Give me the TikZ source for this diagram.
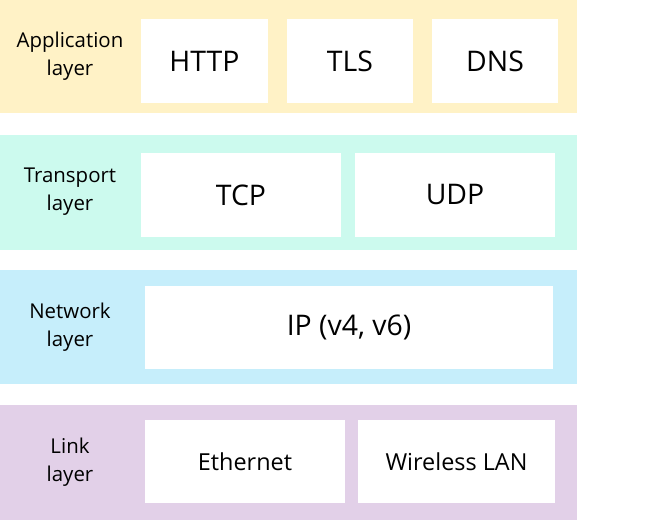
\documentclass[tikz,border=0pt]{standalone}
\usepackage{fontspec}
\setmainfont{Open Sans}
\definecolor{appc}{RGB}{255,242,198}
\definecolor{trc}{RGB}{204,250,238}
\definecolor{netc}{RGB}{198,238,251}
\definecolor{linkc}{RGB}{226,208,232}
\begin{document}
\begin{tikzpicture}[x=1bp,y=-1bp,
  band/.style={draw=none,inner sep=0,outer sep=0,anchor=north west,minimum width=577bp},
  proto/.style={fill=white,draw=none,inner sep=0,outer sep=0,font=\fontsize{28.5}{30}\selectfont},
  lproto/.style={proto,font=\fontsize{23.5}{26}\selectfont},
  lab/.style={align=center,font=\fontsize{20.5}{28}\selectfont}]
\useasboundingbox (0,0) rectangle (667,523);
% bands
\node[band,fill=appc,minimum height=113bp] (app) at (0,0) {};
\node[band,fill=trc,minimum height=115bp] (tr) at (0,135) {};
\node[band,fill=netc,minimum height=114bp] (net) at (0,270) {};
\node[band,fill=linkc,minimum height=115bp] (lnk) at (0,405) {};
% labels
\node[lab] (lapp) at (70,56) {Application\\layer};
\node[lab] (ltr) at (70,192) {Transport\\layer};
\node[lab] (lnet) at (70,327) {Network\\layer};
\node[lab] (llnk) at (70,462) {Link\\layer};
% protocols
\node[proto,minimum width=127bp,minimum height=84bp] (http) at (204.5,61) {HTTP};
\node[proto,minimum width=126bp,minimum height=84bp] (tls) at (350,61) {TLS};
\node[proto,minimum width=126bp,minimum height=84bp] (dns) at (495,61) {DNS};
\node[proto,minimum width=200bp,minimum height=84bp] (tcp) at (241,195) {TCP};
\node[proto,minimum width=200bp,minimum height=84bp] (udp) at (455,195) {UDP};
\node[proto,minimum width=408bp,minimum height=83bp] (ip) at (349,327.5) {IP (v4, v6)};
\node[lproto,minimum width=200bp,minimum height=83bp] (eth) at (245,461.5) {Ethernet};
\node[lproto,minimum width=197bp,minimum height=83bp] (wlan) at (456.5,461.5) {Wireless LAN};
\end{tikzpicture}
\end{document}
